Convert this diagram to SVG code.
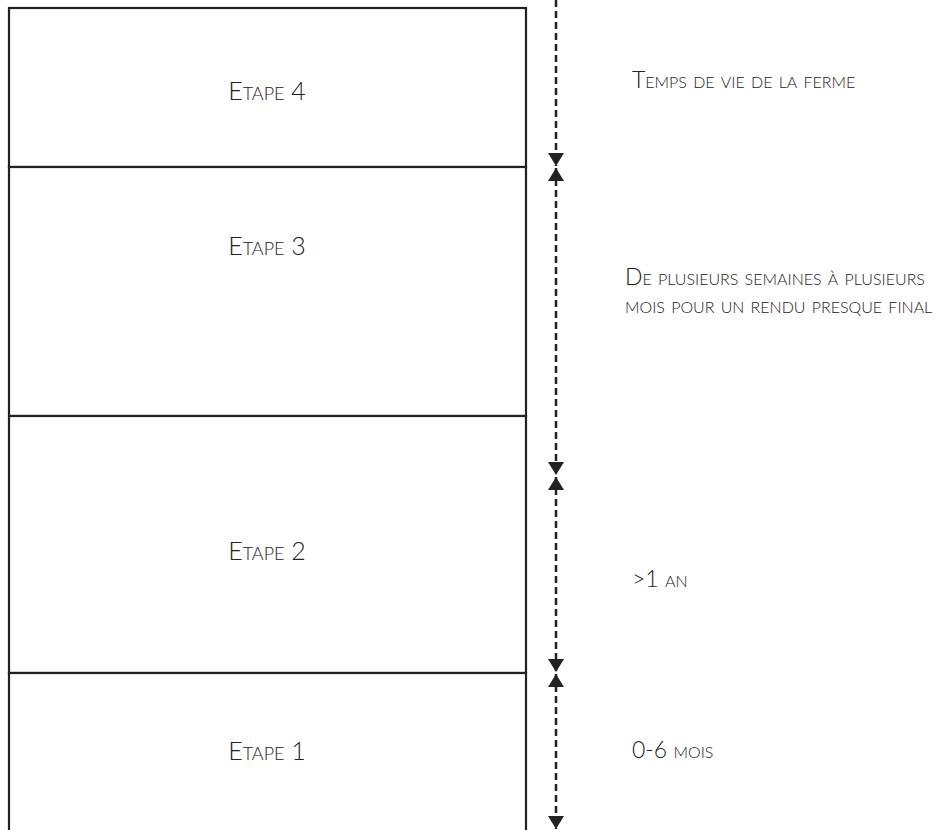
<svg xmlns="http://www.w3.org/2000/svg" width="941" height="830" viewBox="0 0 941 830">
<style>
text{font-family:"Lato","Liberation Sans",sans-serif;font-weight:300;font-variant:small-caps;fill:#222;}
.lbl{font-size:25px;text-anchor:middle;}
.side{font-size:23px;}
.box{fill:#fff;stroke:#222;stroke-width:2.2;}
.dash{stroke:#222;stroke-width:2.5;stroke-dasharray:7 4;fill:none;}
</style>
<defs>
<marker id="ah" viewBox="0 0 13 16" refX="13" refY="8" markerWidth="13" markerHeight="16" markerUnits="userSpaceOnUse" orient="auto-start-reverse">
<path d="M0,0 L13,8 L0,16 Z" fill="#222"/>
</marker>
</defs>
<rect x="0" y="0" width="941" height="830" fill="#fff"/>
<g id="etape4"><rect class="box" x="9" y="8" width="517" height="159"/><text class="lbl" x="267" y="100">Etape 4</text></g>
<g id="etape3"><rect class="box" x="9" y="167" width="517" height="249"/><text class="lbl" x="267" y="255">Etape 3</text></g>
<g id="etape2"><rect class="box" x="9" y="416" width="517" height="257"/><text class="lbl" x="267" y="560">Etape 2</text></g>
<g id="etape1"><rect class="box" x="9" y="673" width="517" height="160"/><text class="lbl" x="267" y="760">Etape 1</text></g>
<g id="connectors">
<line class="dash" x1="556" y1="0" x2="556" y2="166" marker-end="url(#ah)"/>
<line class="dash" x1="556" y1="168" x2="556" y2="475" marker-start="url(#ah)" marker-end="url(#ah)"/>
<line class="dash" x1="556" y1="477" x2="556" y2="672" marker-start="url(#ah)" marker-end="url(#ah)"/>
<line class="dash" x1="556" y1="674" x2="556" y2="829" marker-start="url(#ah)" marker-end="url(#ah)"/>
</g>
<g id="labels">
<text class="side" x="632" y="88">Temps de vie de la ferme</text>
<text class="side" x="625" y="285">De plusieurs semaines à plusieurs</text>
<text class="side" x="625" y="313">mois pour un rendu presque final</text>
<text class="side" x="632" y="587">&gt;1 an</text>
<text class="side" x="632" y="758">0-6 mois</text>
</g>
</svg>
